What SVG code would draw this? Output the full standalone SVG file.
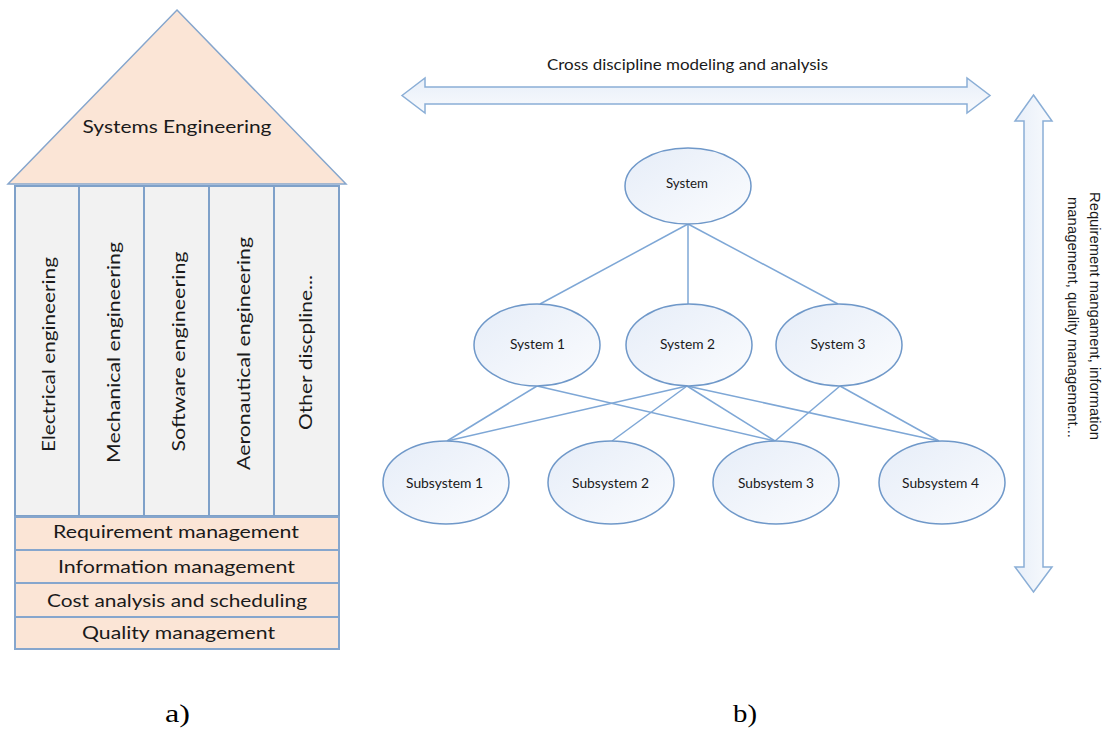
<svg xmlns="http://www.w3.org/2000/svg" width="1108" height="731" viewBox="0 0 1108 731">
  <defs>
    <linearGradient id="ellFill" x1="0" y1="0" x2="1" y2="1">
      <stop offset="0" stop-color="#e6edf8"/>
      <stop offset="1" stop-color="#fbfcfe"/>
    </linearGradient>
    <linearGradient id="arrowFill" x1="0" y1="0" x2="0" y2="1">
      <stop offset="0" stop-color="#e8eff9"/>
      <stop offset="1" stop-color="#f8fafd"/>
    </linearGradient>
    <linearGradient id="arrowFillV" x1="0" y1="0" x2="1" y2="0">
      <stop offset="0" stop-color="#e8eff9"/>
      <stop offset="1" stop-color="#f8fafd"/>
    </linearGradient>
    <style>
      .roof { fill: #fbe5d6; stroke: #86a6cd; stroke-width: 1.5; }
      .col { fill: #f2f2f2; stroke: #7fa1c9; stroke-width: 2; }
      .bar { fill: #fbe5d6; stroke: #86a6cd; stroke-width: 2; }
      .lbl { font-family: Lato, "Open Sans", sans-serif; fill: #1a1a1a; }
      .big { font-size: 18px; }
      .mid { font-size: 17px; }
      .node { fill: url(#ellFill); stroke: #6f98c9; stroke-width: 1.5; }
      .nlbl { font-family: Lato, "Open Sans", sans-serif; font-size: 12.5px; fill: #1a1a1a; text-anchor: middle; }
      .conn { stroke: #7ea7d6; stroke-width: 1.5; fill: none; }
      .arrow { stroke: #8aaed6; stroke-width: 1.5; }
      .sub { font-family: "Liberation Serif", "Times New Roman", serif; font-size: 26px; fill: #000; }
    </style>
  </defs>

  <!-- Left: systems engineering house -->
  <g id="roof">
    <polygon class="roof" points="177,10 346,184 8,184"/>
    <text class="lbl big" x="177" y="133" text-anchor="middle" textLength="189" lengthAdjust="spacingAndGlyphs">Systems Engineering</text>
  </g>

  <g id="col-electrical">
    <rect class="col" x="15" y="186" width="64" height="330"/>
    <text class="lbl big" transform="translate(55,354.5) rotate(-90)" text-anchor="middle" textLength="195" lengthAdjust="spacingAndGlyphs">Electrical engineering</text>
  </g>
  <g id="col-mechanical">
    <rect class="col" x="79" y="186" width="65" height="330"/>
    <text class="lbl big" transform="translate(120,352.5) rotate(-90)" text-anchor="middle" textLength="221" lengthAdjust="spacingAndGlyphs">Mechanical engineering</text>
  </g>
  <g id="col-software">
    <rect class="col" x="144" y="186" width="65" height="330"/>
    <text class="lbl big" transform="translate(185,351.5) rotate(-90)" text-anchor="middle" textLength="200" lengthAdjust="spacingAndGlyphs">Software engineering</text>
  </g>
  <g id="col-aeronautical">
    <rect class="col" x="209" y="186" width="65" height="330"/>
    <text class="lbl big" transform="translate(250,353.5) rotate(-90)" text-anchor="middle" textLength="233" lengthAdjust="spacingAndGlyphs">Aeronautical engineering</text>
  </g>
  <g id="col-other">
    <rect class="col" x="274" y="186" width="65" height="330"/>
    <text class="lbl big" transform="translate(312,352.5) rotate(-90)" text-anchor="middle" textLength="155" lengthAdjust="spacingAndGlyphs">Other discpline...</text>
  </g>

  <g id="bar-requirement">
    <rect class="bar" x="15" y="517" width="324" height="33"/>
    <text class="lbl mid" x="176" y="538" text-anchor="middle" textLength="246" lengthAdjust="spacingAndGlyphs">Requirement management</text>
  </g>
  <g id="bar-information">
    <rect class="bar" x="15" y="550" width="324" height="33"/>
    <text class="lbl mid" x="176.5" y="573" text-anchor="middle" textLength="237" lengthAdjust="spacingAndGlyphs">Information management</text>
  </g>
  <g id="bar-cost">
    <rect class="bar" x="15" y="583" width="324" height="34"/>
    <text class="lbl mid" x="177" y="607" text-anchor="middle" textLength="260" lengthAdjust="spacingAndGlyphs">Cost analysis and scheduling</text>
  </g>
  <g id="bar-quality">
    <rect class="bar" x="15" y="617" width="324" height="32"/>
    <text class="lbl mid" x="178.5" y="639" text-anchor="middle" textLength="193" lengthAdjust="spacingAndGlyphs">Quality management</text>
  </g>

  <!-- Right: system hierarchy -->
  <g id="arrow-horizontal">
    <path class="arrow" fill="url(#arrowFill)" d="M402,95.5 L425,78 L425,87 L967,87 L967,78 L990,95.5 L967,113 L967,104 L425,104 L425,113 Z"/>
    <text class="lbl" x="687.5" y="70" font-size="15.5" text-anchor="middle" textLength="281" lengthAdjust="spacingAndGlyphs">Cross discipline modeling and analysis</text>
  </g>

  <g id="arrow-vertical">
    <path class="arrow" fill="url(#arrowFillV)" d="M1033.5,95 L1052,121 L1043,121 L1043,567 L1052,567 L1033.5,592 L1015,567 L1024,567 L1024,121 L1015,121 Z"/>
    <text font-family="'Liberation Sans', Arial, sans-serif" font-size="14" fill="#1a1a1a" text-anchor="middle" transform="translate(1090,316) rotate(90)" textLength="248" lengthAdjust="spacingAndGlyphs">Requirement mangament, information</text>
    <text font-family="'Liberation Sans', Arial, sans-serif" font-size="14" fill="#1a1a1a" text-anchor="middle" transform="translate(1068,317.5) rotate(90)" textLength="241" lengthAdjust="spacingAndGlyphs">management, quality management...</text>
  </g>

  <g id="connectors">
    <line class="conn" x1="688" y1="224" x2="540" y2="304"/>
    <line class="conn" x1="688" y1="224" x2="688" y2="304"/>
    <line class="conn" x1="688" y1="224" x2="838" y2="304"/>
    <line class="conn" x1="537" y1="386" x2="447" y2="441"/>
    <line class="conn" x1="537" y1="386" x2="775" y2="441"/>
    <line class="conn" x1="687" y1="386" x2="447" y2="441"/>
    <line class="conn" x1="687" y1="386" x2="612" y2="441"/>
    <line class="conn" x1="687" y1="386" x2="775" y2="441"/>
    <line class="conn" x1="687" y1="386" x2="939" y2="441"/>
    <line class="conn" x1="840" y1="386" x2="775" y2="441"/>
    <line class="conn" x1="840" y1="386" x2="939" y2="441"/>
  </g>

  <g id="system">
    <ellipse class="node" cx="688" cy="186" rx="63" ry="38"/>
    <text class="nlbl" x="687" y="188" textLength="42" lengthAdjust="spacingAndGlyphs">System</text>
  </g>
  <g id="system-1">
    <ellipse class="node" cx="537" cy="345" rx="63" ry="41"/>
    <text class="nlbl" x="537.5" y="349" textLength="55" lengthAdjust="spacingAndGlyphs">System 1</text>
  </g>
  <g id="system-2">
    <ellipse class="node" cx="689" cy="345" rx="63" ry="41"/>
    <text class="nlbl" x="687.5" y="349" textLength="55" lengthAdjust="spacingAndGlyphs">System 2</text>
  </g>
  <g id="system-3">
    <ellipse class="node" cx="839" cy="345" rx="63" ry="41"/>
    <text class="nlbl" x="838" y="349" textLength="55" lengthAdjust="spacingAndGlyphs">System 3</text>
  </g>
  <g id="subsystem-1">
    <ellipse class="node" cx="446" cy="482.5" rx="63" ry="41.5"/>
    <text class="nlbl" x="444.5" y="488" textLength="77" lengthAdjust="spacingAndGlyphs">Subsystem 1</text>
  </g>
  <g id="subsystem-2">
    <ellipse class="node" cx="611" cy="482.5" rx="63" ry="41.5"/>
    <text class="nlbl" x="610.5" y="488" textLength="77" lengthAdjust="spacingAndGlyphs">Subsystem 2</text>
  </g>
  <g id="subsystem-3">
    <ellipse class="node" cx="776" cy="482.5" rx="63" ry="41.5"/>
    <text class="nlbl" x="776" y="488" textLength="76" lengthAdjust="spacingAndGlyphs">Subsystem 3</text>
  </g>
  <g id="subsystem-4">
    <ellipse class="node" cx="942" cy="482.5" rx="63" ry="41.5"/>
    <text class="nlbl" x="940.5" y="488" textLength="77" lengthAdjust="spacingAndGlyphs">Subsystem 4</text>
  </g>

  <!-- Panel captions -->
  <text class="sub" x="165" y="722" textLength="25" lengthAdjust="spacingAndGlyphs">a)</text>
  <text class="sub" x="733" y="722" textLength="24" lengthAdjust="spacingAndGlyphs">b)</text>
</svg>
